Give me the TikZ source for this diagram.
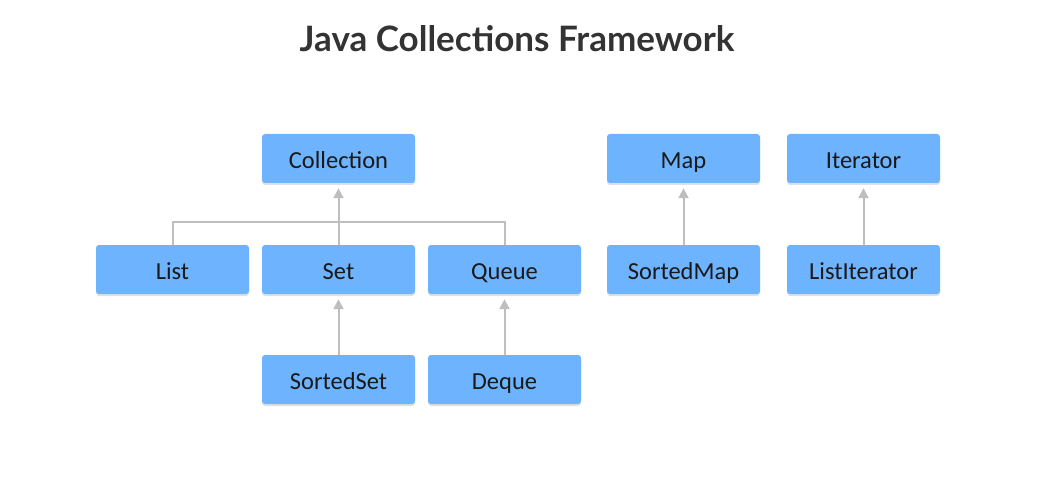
\documentclass[tikz,border=0pt]{standalone}
\usepackage{fontspec}
\setmainfont{Carlito}
\newfontfamily\titlefont{Lato}
\usetikzlibrary{arrows.meta,shadows}
\definecolor{boxblue}{HTML}{6DB3FD}
\definecolor{linegray}{HTML}{BEBEBE}
\definecolor{titlegray}{HTML}{333333}
\tikzset{
    ifacebox/.style={fill=boxblue, rounded corners=3pt, minimum width=153pt, minimum height=49pt,
        inner sep=0pt, text height=19pt, text depth=0pt, font=\fontsize{24.5}{28}\selectfont, text=black!90,
        drop shadow={shadow xshift=0pt, shadow yshift=-2pt, opacity=0.12, fill=black}},
    link/.style={draw=linegray, line width=2pt},
    uplink/.style={link, -{Triangle[width=10pt,length=10pt]}, shorten >=5pt}
}
\begin{document}
\begin{tikzpicture}[x=1pt,y=-1pt]
            \useasboundingbox (0,0) rectangle (1043,489);
            \node[font=\titlefont\bfseries\fontsize{35}{40}\selectfont, text=titlegray] (title) at (517,39) {Java Collections Framework};
            % Collection branch
            \node[ifacebox] (collection) at (338.5,158.5) {Collection};
            \node[ifacebox] (list) at (172.5,269.5) {List};
            \node[ifacebox] (set) at (338.5,269.5) {Set};
            \node[ifacebox] (queue) at (504.5,269.5) {Queue};
            \node[ifacebox] (sortedset) at (338.5,379.5) {SortedSet};
            \node[ifacebox] (deque) at (504.5,379.5) {Deque};
            % Map and Iterator
            \node[ifacebox] (map) at (683.5,158.5) {Map};
            \node[ifacebox] (iterator) at (863.5,158.5) {Iterator};
            \node[ifacebox] (sortedmap) at (683.5,269.5) {SortedMap};
            \node[ifacebox] (listiterator) at (863.5,269.5) {ListIterator};
            \coordinate (bar) at (338.5,222);
            \draw[link] (list.north) |- (bar) -| (queue.north);
            \draw[link] (set.north) -- (bar);
            \draw[uplink] (bar) -- (collection.south);
            \draw[uplink] (sortedset.north) -- (set.south);
            \draw[uplink] (deque.north) -- (queue.south);
            \draw[uplink] (sortedmap.north) -- (map.south);
            \draw[uplink] (listiterator.north) -- (iterator.south);
        \end{tikzpicture}
\end{document}
